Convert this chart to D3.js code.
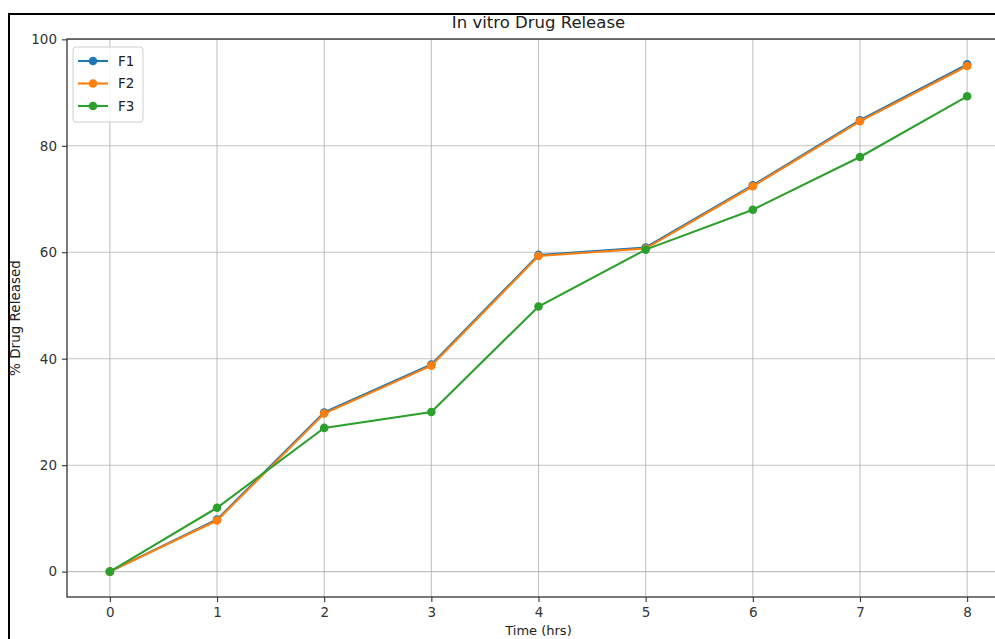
<!DOCTYPE html>
<html>
<head>
<meta charset="utf-8">
<script src="https://cdn.jsdelivr.net/npm/d3@7"></script>
<style>
    body { margin: 0; background: #fff; }
    svg { display: block; font-family: "DejaVu Sans", sans-serif; }
    .tick text { fill: #333; }
</style>
</head>
<body>
<div id="chart"></div>
<script>
// Values
const hours = [0, 1, 2, 3, 4, 5, 6, 7, 8];
const f1 = [0, 9.8, 29.9, 38.9, 59.5, 60.9, 72.6, 84.8, 95.3];
const f2 = [0, 9.6, 29.7, 38.7, 59.3, 60.7, 72.4, 84.6, 95.0];
const f3 = [0, 12.0, 27.0, 30.0, 49.8, 60.5, 68.0, 77.9, 89.3];
const seriesNames = ['F1', 'F2', 'F3'];
const yTicks = [0, 20, 40, 60, 80, 100];

const colors = ['#1f77b4', '#ff7f0e', '#2ca02c'];
const series = [f1, f2, f3].map((vals, i) => ({
    name: seriesNames[i],
    color: colors[i],
    points: hours.map((h, j) => ({ x: h, y: vals[j] }))
}));

const width = 995, height = 639;
const plot = { left: 67, top: 39, right: 1010, bottom: 597 };

const svg = d3.select('#chart').append('svg')
    .attr('width', width)
    .attr('height', height);

// Outer frame of the screenshot
svg.append('path')
    .attr('d', `M9,${height + 5}V14H${width + 5}`)
    .attr('fill', 'none')
    .attr('stroke', '#000')
    .attr('stroke-width', 2);

// Scales with matplotlib-style 5% margins
const xExt = d3.extent(hours);
const xPad = (xExt[1] - xExt[0]) * 0.05;
const allY = [].concat(f1, f2, f3);
const yExt = d3.extent(allY);
const yPad = (yExt[1] - yExt[0]) * 0.05;

const x = d3.scaleLinear()
    .domain([xExt[0] - xPad, xExt[1] + xPad])
    .range([plot.left, plot.right]);
const y = d3.scaleLinear()
    .domain([yExt[0] - yPad, yExt[1] + yPad])
    .range([plot.bottom, plot.top]);

// Grid
const grid = svg.append('g').attr('class', 'grid');
grid.selectAll('line.vx')
    .data(hours)
    .join('line')
    .attr('x1', d => x(d)).attr('x2', d => x(d))
    .attr('y1', plot.top).attr('y2', plot.bottom)
    .attr('stroke', '#b0b0b0').attr('stroke-width', 1.1).attr('opacity', 0.75);
grid.selectAll('line.hy')
    .data(yTicks)
    .join('line')
    .attr('x1', plot.left).attr('x2', plot.right)
    .attr('y1', d => y(d)).attr('y2', d => y(d))
    .attr('stroke', '#b0b0b0').attr('stroke-width', 1.1).attr('opacity', 0.75);

// Axes
const xAxis = svg.append('g')
    .attr('transform', `translate(0,${plot.bottom})`)
    .call(d3.axisBottom(x).tickValues(hours).tickFormat(d3.format('d'))
        .tickSize(5).tickPadding(5));
const yAxis = svg.append('g')
    .attr('transform', `translate(${plot.left},0)`)
    .call(d3.axisLeft(y).tickValues(yTicks).tickFormat(d3.format('d'))
        .tickSize(5).tickPadding(5));

[xAxis, yAxis].forEach(ax => {
    ax.select('.domain').remove();
    ax.selectAll('.tick line').attr('stroke', '#333').attr('stroke-width', 1.1);
    ax.selectAll('.tick text')
        .attr('font-size', 13.5)
        .attr('font-family', '"DejaVu Sans", sans-serif');
});

// Spines
svg.append('rect')
    .attr('x', plot.left).attr('y', plot.top)
    .attr('width', plot.right - plot.left)
    .attr('height', plot.bottom - plot.top)
    .attr('fill', 'none')
    .attr('stroke', '#333')
    .attr('stroke-width', 1.3);

// Lines and markers
const line = d3.line().x(d => x(d.x)).y(d => y(d.y));
series.forEach(s => {
    const g = svg.append('g').attr('class', 'series');
    g.append('path')
        .datum(s.points)
        .attr('d', line)
        .attr('fill', 'none')
        .attr('stroke', s.color)
        .attr('stroke-width', 2.1);
    g.selectAll('circle')
        .data(s.points)
        .join('circle')
        .attr('cx', d => x(d.x))
        .attr('cy', d => y(d.y))
        .attr('r', 4.3)
        .attr('fill', s.color);
});

// Title and axis labels
svg.append('text')
    .attr('x', (plot.left + plot.right) / 2)
    .attr('y', 28)
    .attr('text-anchor', 'middle')
    .attr('font-size', 16.5)
    .attr('fill', '#222')
    .text('In vitro Drug Release');

svg.append('text')
    .attr('x', (plot.left + plot.right) / 2)
    .attr('y', 635)
    .attr('text-anchor', 'middle')
    .attr('font-size', 13)
    .attr('fill', '#222')
    .text('Time (hrs)');

svg.append('text')
    .attr('transform', `translate(20,${(plot.top + plot.bottom) / 2}) rotate(-90)`)
    .attr('text-anchor', 'middle')
    .attr('font-size', 13.5)
    .attr('fill', '#222')
    .text('% Drug Released');

// Legend
const legend = svg.append('g').attr('transform', 'translate(73,47)');
legend.append('rect')
    .attr('width', 70).attr('height', 75)
    .attr('rx', 3)
    .attr('fill', '#fff').attr('fill-opacity', 0.8)
    .attr('stroke', '#d0d0d0');
series.forEach((s, i) => {
    const row = legend.append('g').attr('transform', `translate(0,${14 + i * 22.5})`);
    row.append('line')
        .attr('x1', 5).attr('x2', 35)
        .attr('stroke', s.color).attr('stroke-width', 2.1);
    row.append('circle')
        .attr('cx', 20).attr('r', 4.3).attr('fill', s.color);
    row.append('text')
        .attr('x', 45).attr('dy', '0.35em')
        .attr('font-size', 13.5)
        .attr('fill', '#222')
        .text(s.name);
});
</script>
</body>
</html>
